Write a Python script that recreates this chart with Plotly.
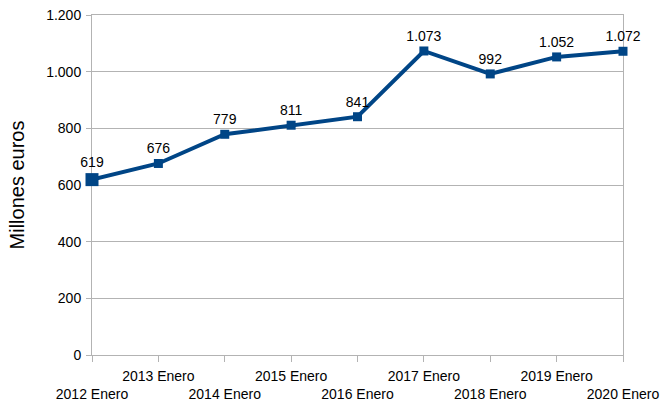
import plotly.graph_objects as go

categories = ["2012 Enero", "2013 Enero", "2014 Enero", "2015 Enero", "2016 Enero",
              "2017 Enero", "2018 Enero", "2019 Enero", "2020 Enero"]
values = [619, 676, 779, 811, 841, 1073, 992, 1052, 1072]
y_ticks = [0, 200, 400, 600, 800, 1000, 1200]


def fmt(v):
    return f"{v:,}".replace(",", ".")


x_pos = list(range(len(categories)))
tick_text = [("<br>" + c) if i % 2 == 0 else c for i, c in enumerate(categories)]
marker_sizes = [13] + [9] * (len(values) - 1)

fig = go.Figure()
fig.add_trace(go.Scatter(
    x=x_pos, y=values, mode="lines+markers+text",
    line=dict(color="#004586", width=4),
    marker=dict(symbol="square", size=marker_sizes, color="#004586", opacity=1,
                line=dict(width=0, color="#004586")),
    text=[fmt(v) for v in values], textposition="top center",
    textfont=dict(family="Liberation Sans, Arial, sans-serif", size=14, color="#000000"),
    cliponaxis=False, hoverinfo="skip", showlegend=False,
))

fig.update_layout(
    width=661, height=401,
    margin=dict(l=92, r=38, t=15, b=46, autoexpand=False),
    paper_bgcolor="white", plot_bgcolor="white",
    font=dict(family="Liberation Sans, Arial, sans-serif", size=14, color="#000000"),
    separators=",.",
    xaxis=dict(
        range=[0, len(categories) - 1], tickmode="array", tickvals=x_pos, ticktext=tick_text,
        showgrid=False, zeroline=False, showline=True, mirror=True, linecolor="#b3b3b3", linewidth=1,
        ticks="outside", ticklen=6, tickcolor="#b3b3b3", tickangle=0, automargin=False,
        ticklabelstandoff=2, layer="below traces",
        tickfont=dict(size=14, color="#000000"),
    ),
    yaxis=dict(
        range=[0, 1200], tickmode="array", tickvals=y_ticks, ticktext=[fmt(v) for v in y_ticks],
        showgrid=True, gridcolor="#b3b3b3", gridwidth=1, zeroline=False,
        showline=True, mirror=True, linecolor="#b3b3b3", linewidth=1,
        ticks="outside", ticklen=5, tickcolor="#b3b3b3", automargin=False,
        ticklabelstandoff=2, layer="below traces",
        tickfont=dict(size=14, color="#000000"),
        title=dict(text="Millones euros", font=dict(size=20, color="#000000"), standoff=16),
    ),
)

fig.write_html("out.html", config={"displayModeBar": False},
               post_script="document.body.style.margin='0';")
